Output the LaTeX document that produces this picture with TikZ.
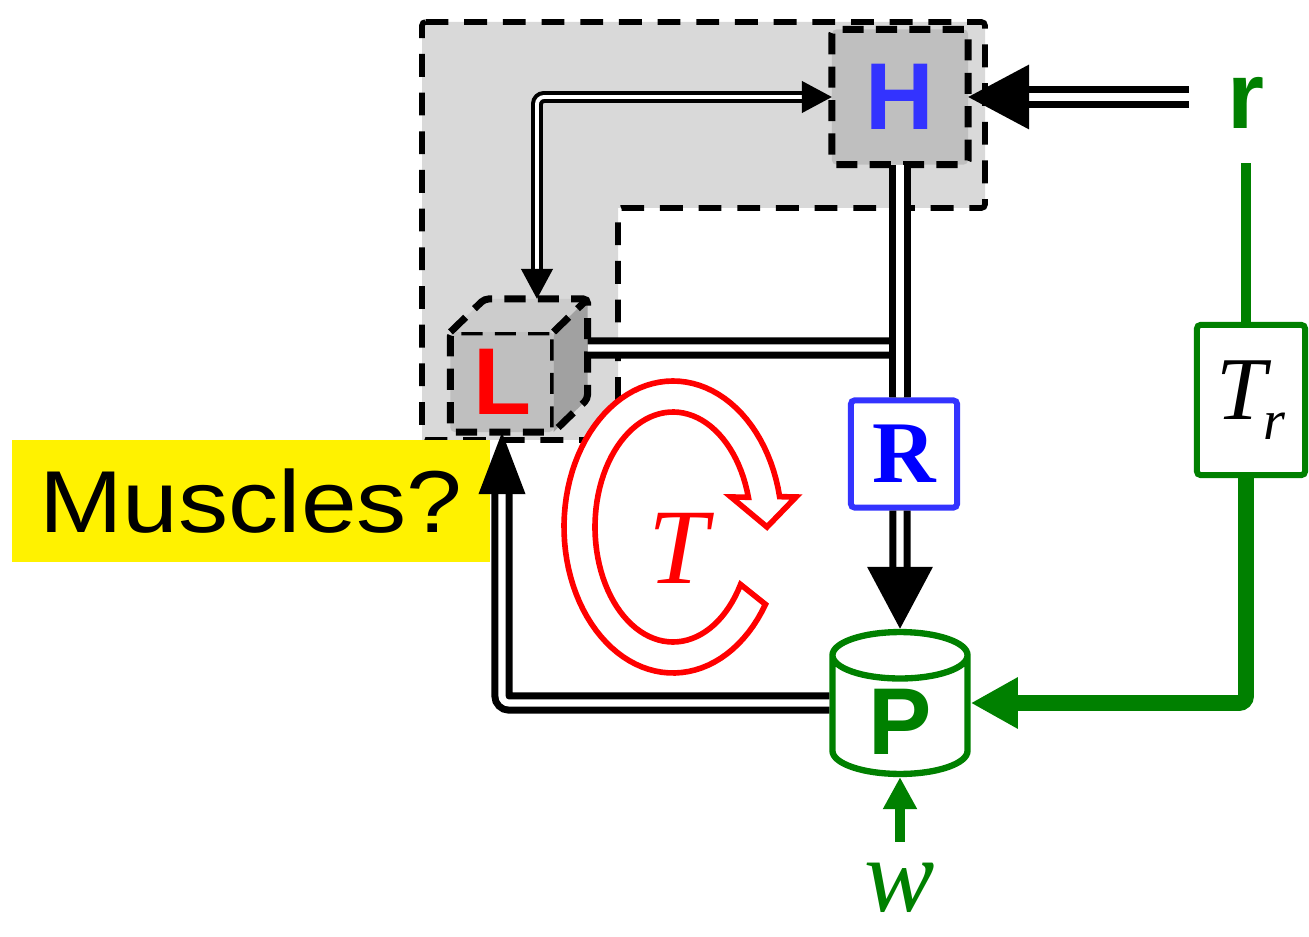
\documentclass[tikz,border=0pt]{standalone}
\usepackage{fontspec}
\usepackage{amsmath,amssymb}
\usepackage{graphicx}
\usepackage{tikz}
\usetikzlibrary{positioning,arrows.meta,shapes.geometric}
\usepackage{xcolor}
\newfontfamily\arialfam{Liberation Sans}
\newfontfamily\timesfam{Liberation Serif}
\definecolor{hblue}{HTML}{3333FF}
\definecolor{pgreen}{HTML}{008000}
\definecolor{zonegray}{HTML}{D9D9D9}
\definecolor{boxgray}{HTML}{BFBFBF}

\begin{document}
\begin{tikzpicture}[x=0.01cm,y=-0.01cm,
  dashbox/.style={draw=black,line width=2pt,dash pattern=on 6pt off 3.5pt,fill=boxgray,
    rounded corners=1.2pt,inner sep=0pt,outer sep=0pt},
  zoneline/.style={draw=black,line width=1.6pt,dash pattern=on 6.5pt off 4.5pt,rounded corners=1pt},
  bigletter/.style={font=\arialfam\bfseries\fontsize{27}{30}\selectfont},
  dbl/.style={draw=black,double=white,line width=2pt,double distance=2pt,rounded corners=2pt},
  thindbl/.style={draw=black,double=white,line width=1.15pt,double distance=1.1pt,rounded corners=2pt},
  grnline/.style={draw=pgreen,line width=#1,rounded corners=2pt},
  greenbox/.style={draw=pgreen,line width=1.7pt,fill=white,rounded corners=1pt}]
\useasboundingbox (0,0) rectangle (1309,937);

% shaded zone
\fill[zonegray] (422,22) -- (985,22) -- (985,208) -- (618,208) -- (618,440) -- (422,440) -- cycle;
\draw[zoneline] (422,22) -- (985,22) -- (985,208) -- (618,208) -- (618,440) -- (422,440) -- cycle;

\node[dashbox,bigletter,text=hblue,minimum width=1.36cm,minimum height=1.35cm] (H) at (900,97) {H};
\node[dashbox,bigletter,text=red,minimum width=1.03cm,minimum height=1.0cm] (L) at (502,382) {L};
\fill[black!20] (L.north west) -- ([shift={(34,-33)}]L.north west) -- ([shift={(34,-33)}]L.north east) -- (L.north east) -- cycle;
\fill[black!37] (L.north east) -- ([shift={(34,-33)}]L.north east) -- ([shift={(34,-33)}]L.south east) -- (L.south east) -- cycle;
\draw[dashbox,fill=none] (L.north west) -- ([shift={(34,-33)}]L.north west) -- ([shift={(34,-33)}]L.north east)
  -- ([shift={(34,-33)}]L.south east) -- (L.south east);
\draw[dashbox,fill=none] (L.north east) -- ([shift={(34,-33)}]L.north east);
\coordinate (Ltop) at ([shift={(35,-33)}]L.north);
\coordinate (Lside) at ([shift={(34,-34)}]L.east);

\node[draw=hblue,line width=1.7pt,fill=white,rounded corners=1pt,minimum width=1.06cm,minimum height=1.07cm,
  font=\timesfam\bfseries\fontsize{25}{30}\selectfont,text=blue] (R) at (904,454) {R};
\node[cylinder,shape border rotate=90,aspect=0.6,draw=pgreen,line width=1.8pt,fill=white,anchor=shape center,inner sep=2pt,
  minimum width=1.35cm,minimum height=1.25cm,bigletter,text=pgreen] (P) at (900,703) {P};
\node[bigletter,text=pgreen] (r) at (1246,103) {r};
\node[greenbox,minimum width=1.08cm,minimum height=1.5cm,font=\timesfam\itshape\fontsize{25.5}{30}\selectfont] (Tr) at (1251,400)
  {T\kern-1pt\raisebox{-5.5pt}{\fontsize{16}{18}\selectfont r}};
\node[text=pgreen,inner sep=0.5pt,font=\timesfam\itshape\fontsize{30}{33}\selectfont] (w) at (900,888) {w};
\node[fill=yellow,minimum width=4.78cm,minimum height=1.22cm,font=\arialfam\fontsize{25}{30}\selectfont] (mus) at (251,501)
  {\scalebox{1.14}[1]{Muscles?}};

% torque loop
\draw[red,line width=1.6pt,fill=white]
  plot[domain=-12:-328,samples=90] ({673+109*cos(\x)},{527+146*sin(\x)})
  -- plot[domain=-330:-15,samples=90] ({673+78*cos(\x)},{527+115*sin(\x)})
  -- (731,497) -- (767,527) -- (796,497) -- cycle;
\node[text=red,font=\timesfam\itshape\fontsize{30.5}{34}\selectfont,inner sep=0pt] (T) at (678,548) {T};

\draw[thindbl,{Triangle[length=3mm,width=3.1mm]}-{Triangle[length=3mm,width=3.1mm]}] (Ltop) |- (H.west);
\draw[dbl] (Lside) -| (H.south |- R.north);
\draw[dbl] (H.south) -- (H.south |- R.north);
\draw[dbl,-{Triangle[length=6.2mm,width=6.4mm]}] (H.south |- R.south) -- (P.north);
\draw[dbl,shorten <=2.6mm,-{Triangle[length=6.1mm,width=6.3mm]}] (r.west |- H.east) -- (H.east);
\draw[dbl,-{Triangle[length=6.2mm,width=4.5mm]}] (P.west |- P.shape center) -| (L.south);

\draw[grnline=3.1pt,shorten <=2.2mm] (r.south) -- (r.south |- Tr.north);
\draw[grnline=4.5pt,-{Triangle[length=4.7mm,width=4.8mm]}] (r.south |- Tr.south) |- (P.east |- P.shape center);
\draw[grnline=2.8pt,shorten <=1.9mm,-{Triangle[length=3.2mm,width=3.2mm]}] (w.north) -- (P.south);
\end{tikzpicture}
\end{document}
